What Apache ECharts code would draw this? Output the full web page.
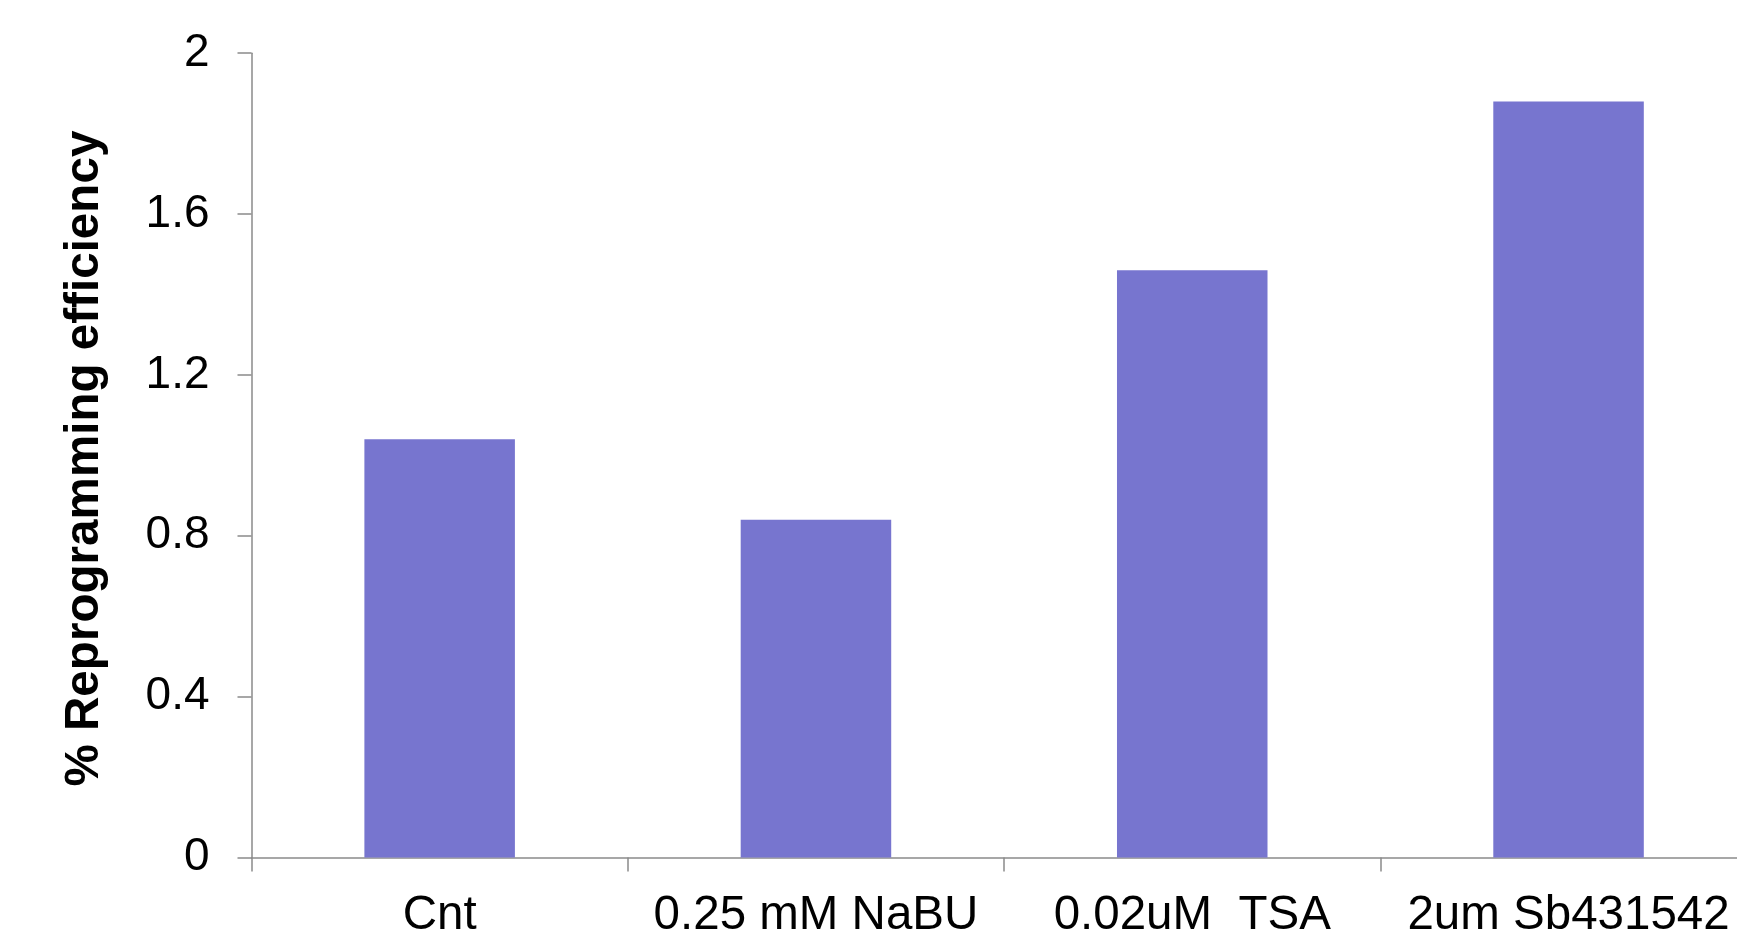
<!DOCTYPE html>
<html>
<head>
<meta charset="utf-8">
<script src="https://cdn.jsdelivr.net/npm/echarts@6/dist/echarts.min.js"></script>
<style>
html,body{margin:0;padding:0;background:#fff;overflow:hidden;}
#chart{width:1737px;height:934px;}
</style>
</head>
<body>
<div id="chart"></div>
<script>
const categories = ['Cnt', '0.25 mM NaBU', '0.02uM  TSA', '2um Sb431542'];
const efficiency = [1.04, 0.84, 1.46, 1.88];
const yTitle = '% Reprogramming efficiency';

const chart = echarts.init(document.getElementById('chart'));
const axisGray = '#8a8a8a';
chart.setOption({
  animation: false,
  backgroundColor: '#ffffff',
  grid: { left: 251.5, top: 53.2, bottom: 76.6, right: -19.7, containLabel: false, outerBoundsMode: 'none' },
  xAxis: {
    type: 'category',
    data: categories,
    axisLine: { lineStyle: { color: axisGray, width: 1.5 } },
    axisTick: { show: true, length: 14, lineStyle: { color: axisGray, width: 1.5 } },
    axisLabel: { margin: 35, color: '#000', fontSize: 47.5, fontFamily: '"Liberation Sans", Arial, sans-serif', interval: 0 }
  },
  yAxis: {
    type: 'value',
    min: 0, max: 2, interval: 0.4,
    axisLine: { show: true, lineStyle: { color: axisGray, width: 1.5 } },
    axisTick: { show: true, length: 14, lineStyle: { color: axisGray, width: 1.5 } },
    splitLine: { show: false },
    axisLabel: { margin: 42, color: '#000', fontSize: 46, fontFamily: '"Liberation Sans", Arial, sans-serif' }
  },
  series: [{
    type: 'bar',
    data: efficiency,
    barWidth: '40%',
    itemStyle: { color: '#7775cf' }
  }],
  graphic: [{
    type: 'text',
    x: 85,
    y: 458.6,
    rotation: Math.PI / 2,
    style: {
      text: yTitle,
      fontSize: 47.6,
      fontWeight: 'bold',
      fontFamily: '"Liberation Sans", Arial, sans-serif',
      fill: '#000',
      align: 'center',
      verticalAlign: 'middle',
      textAlign: 'center',
      textVerticalAlign: 'middle'
    }
  }]
});
</script>
</body>
</html>
